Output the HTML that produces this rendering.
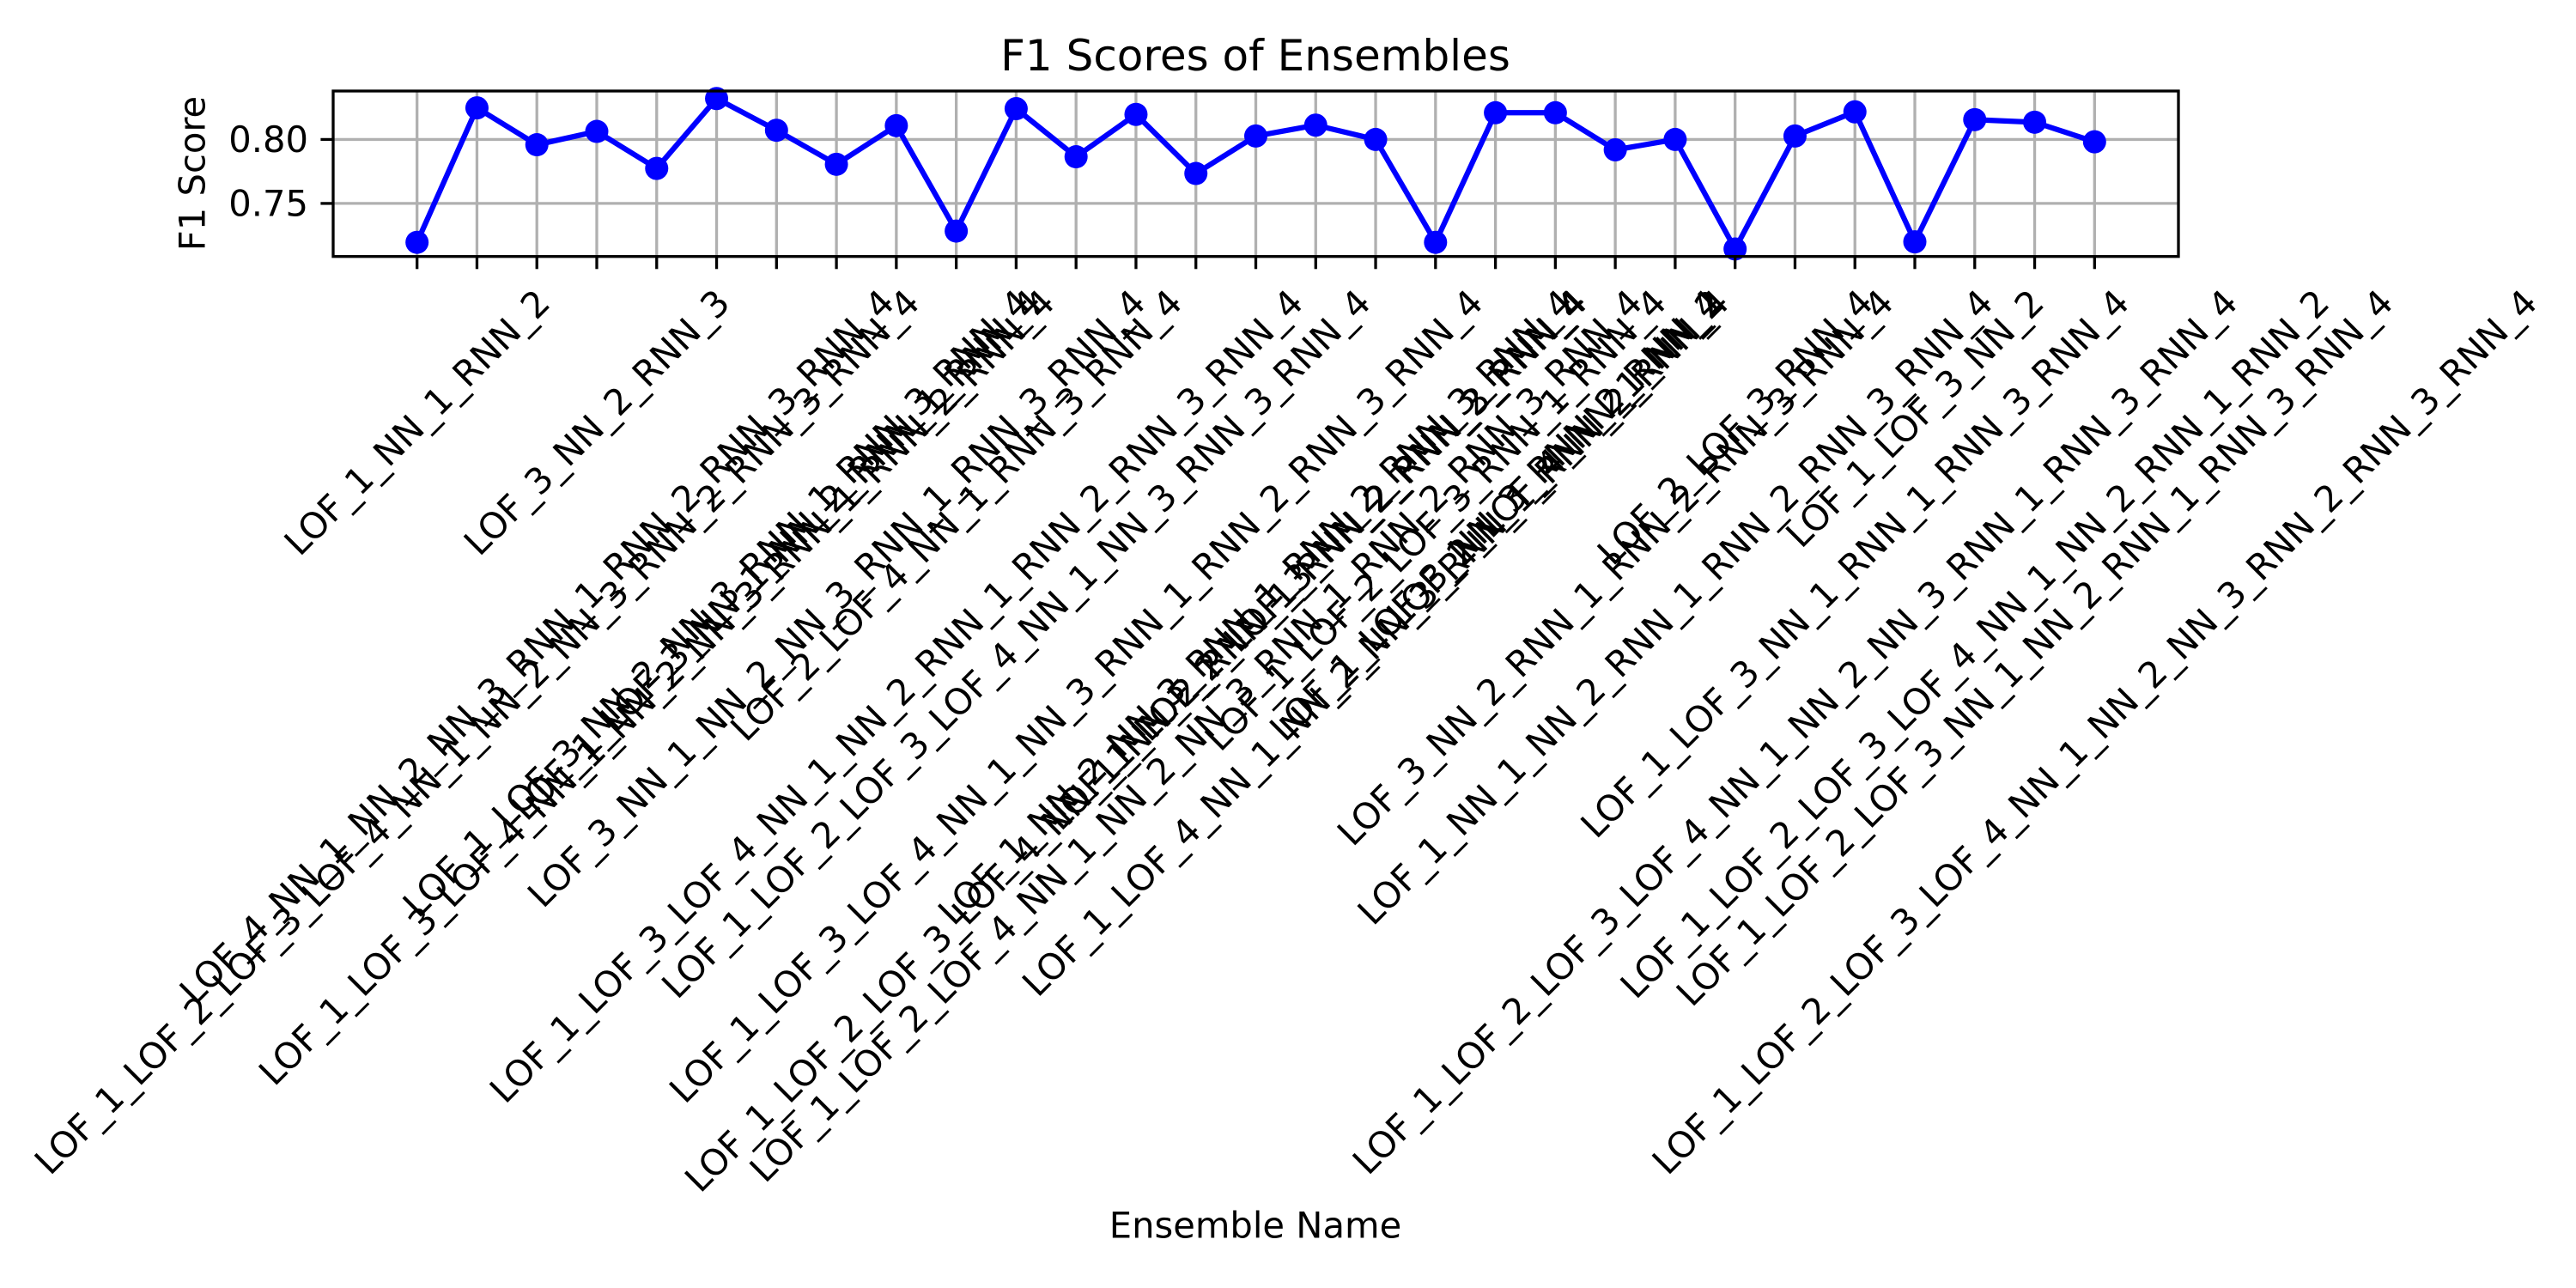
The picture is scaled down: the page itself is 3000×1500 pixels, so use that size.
<!DOCTYPE html>
<html><head><meta charset="utf-8"><style>
html,body{margin:0;padding:0;background:#fff;}
svg{display:block;font-family:"DejaVu Sans","Liberation Sans",sans-serif;}
</style></head><body>
<svg id="chart" width="3000" height="1500" viewBox="0 0 3000 1500" xmlns="http://www.w3.org/2000/svg">
<rect width="3000" height="1500" fill="#fff"/>
<text x="1462" y="82" font-size="50" text-anchor="middle">F1 Scores of Ensembles</text>
<text transform="translate(224,202) rotate(-90)" font-size="41.67" text-anchor="middle" dominant-baseline="central">F1 Score</text>
<text x="1462" y="1427" font-size="41.67" text-anchor="middle" dominant-baseline="central">Ensemble Name</text>
<g id="grid"></g>
<g id="series"></g>
<g id="xticks"></g>
<g id="yticks"></g>
<rect x="388" y="106" width="2149" height="192.7" fill="none" stroke="#000" stroke-width="3.3"/>
</svg>
<script>
const categories = ["LOF_1_NN_1_RNN_2","LOF_1_LOF_2_LOF_3_LOF_4_NN_1_NN_2_NN_3_RNN_2_RNN_3_RNN_4","LOF_4_NN_1_NN_2_NN_3_RNN_1_RNN_2_RNN_3_RNN_4","LOF_3_NN_2_RNN_3","LOF_1_LOF_3_LOF_4_NN_1_NN_2_NN_3_RNN_1_RNN_2_RNN_4","LOF_1_LOF_3_NN_2_NN_3_RNN_1_RNN_3_RNN_4","LOF_1_LOF_3_NN_1_NN_2_RNN_1_RNN_4","LOF_3_NN_1_NN_2_NN_3_RNN_1_RNN_3_RNN_4","LOF_1_LOF_3_LOF_4_NN_1_NN_2_RNN_1_RNN_2_RNN_3_RNN_4","LOF_2_LOF_4_NN_1_RNN_3_RNN_4","LOF_1_LOF_2_LOF_3_LOF_4_NN_1_NN_3_RNN_3_RNN_4","LOF_1_LOF_3_LOF_4_NN_1_NN_3_RNN_1_RNN_2_RNN_3_RNN_4","LOF_1_LOF_2_LOF_3_LOF_4_NN_1_NN_2_RNN_1_RNN_2_RNN_3_RNN_4","LOF_1_LOF_2_LOF_4_NN_1_NN_2_NN_3_RNN_1_RNN_2_RNN_3_RNN_4","LOF_1_NN_2_NN_3_RNN_1_RNN_2_RNN_3_RNN_4","LOF_1_LOF_2_LOF_3_NN_2_RNN_2_RNN_4","LOF_1_LOF_4_NN_1_NN_2_NN_3_RNN_1_RNN_2_RNN_4","LOF_1_LOF_2_LOF_3_RNN_1_RNN_4","LOF_1_LOF_3_NN_3_RNN_2_RNN_4","LOF_2_LOF_4_NN_1_NN_2","LOF_3_NN_2_RNN_1_RNN_2_RNN_3_RNN_4","LOF_1_NN_1_NN_2_RNN_1_RNN_2_RNN_3_RNN_4","LOF_2_LOF_3_RNN_4","LOF_1_LOF_2_LOF_3_LOF_4_NN_1_NN_2_NN_3_RNN_1_RNN_3_RNN_4","LOF_1_LOF_3_NN_1_RNN_1_RNN_3_RNN_4","LOF_1_LOF_3_NN_2","LOF_1_LOF_2_LOF_3_LOF_4_NN_1_NN_2_RNN_1_RNN_2","LOF_1_LOF_2_LOF_3_NN_1_NN_2_RNN_1_RNN_3_RNN_4","LOF_1_LOF_2_LOF_3_LOF_4_NN_1_NN_2_NN_3_RNN_2_RNN_3_RNN_4"];
const f1Scores = [0.7196,0.8247,0.7959,0.8063,0.7774,0.8320,0.8072,0.7806,0.8108,0.7284,0.8241,0.7865,0.8196,0.7734,0.8027,0.8112,0.8000,0.7196,0.8209,0.8209,0.7919,0.8000,0.7144,0.8027,0.8216,0.7200,0.8155,0.8135,0.7982];
const yTickValues = [0.75,0.80];
const yTickLabels = ["0.75","0.80"];

const NS="http://www.w3.org/2000/svg";
const AX={left:388,right:2537,top:106,bottom:298.7};
const n=categories.length;
const xmin=-0.05*(n-1), xmax=(n-1)*1.05;
const dmin=Math.min(...f1Scores), dmax=Math.max(...f1Scores), pad=(dmax-dmin)*0.05;
const ymin=dmin-pad, ymax=dmax+pad;
function xScale(i){return AX.left+(i-xmin)/(xmax-xmin)*(AX.right-AX.left);}
function yScale(v){return AX.bottom-(v-ymin)/(ymax-ymin)*(AX.bottom-AX.top);}
function mk(tag,attrs,parent){const e=document.createElementNS(NS,tag);for(const k in attrs)e.setAttribute(k,attrs[k]);parent.appendChild(e);return e;}

const grid=document.getElementById('grid');
const xt=document.getElementById('xticks');
const yt=document.getElementById('yticks');
const ser=document.getElementById('series');

categories.forEach((c,i)=>{
  const x=xScale(i);
  const g=mk('line',{x1:x,x2:x,y1:AX.top,y2:AX.bottom,stroke:'#b0b0b0','stroke-width':3.3},grid);
  
  
  const t=mk('line',{x1:x,x2:x,y1:AX.bottom,y2:AX.bottom+14.6,stroke:'#000','stroke-width':3.3},xt);
  
  
  const lbl=mk('text',{'font-size':41.67,'text-anchor':'middle','dominant-baseline':'central'},xt);
  lbl.textContent=c;
  
  
  const L=lbl.getComputedTextLength();
  const W=(L+48)/Math.SQRT2;
  const cy=AX.bottom+14.6+14.6+W/2;
  lbl.setAttribute('transform','translate('+x+','+cy+') rotate(-45)');
});

yTickValues.forEach((v,i)=>{
  const y=yScale(v);
  const g=mk('line',{x1:AX.left,x2:AX.right,y1:y,y2:y,stroke:'#b0b0b0','stroke-width':3.3},grid);
  
  
  const t=mk('line',{x1:AX.left-14.6,x2:AX.left,y1:y,y2:y,stroke:'#000','stroke-width':3.3},yt);
  
  
  const lbl=mk('text',{x:AX.left-29,y:y,'font-size':41.67,'text-anchor':'end','dominant-baseline':'central'},yt);
  lbl.textContent=yTickLabels[i];
  
  
});

const pts=f1Scores.map((v,i)=>xScale(i)+','+yScale(v)).join(' ');
const line=mk('polyline',{points:pts,fill:'none',stroke:'#0000ff','stroke-width':6.25,'stroke-linejoin':'round'},ser);


f1Scores.forEach((v,i)=>{
  const c=mk('circle',{cx:xScale(i),cy:yScale(v),r:13.5,fill:'#0000ff'},ser);
  
  
});
</script>
</body></html>
